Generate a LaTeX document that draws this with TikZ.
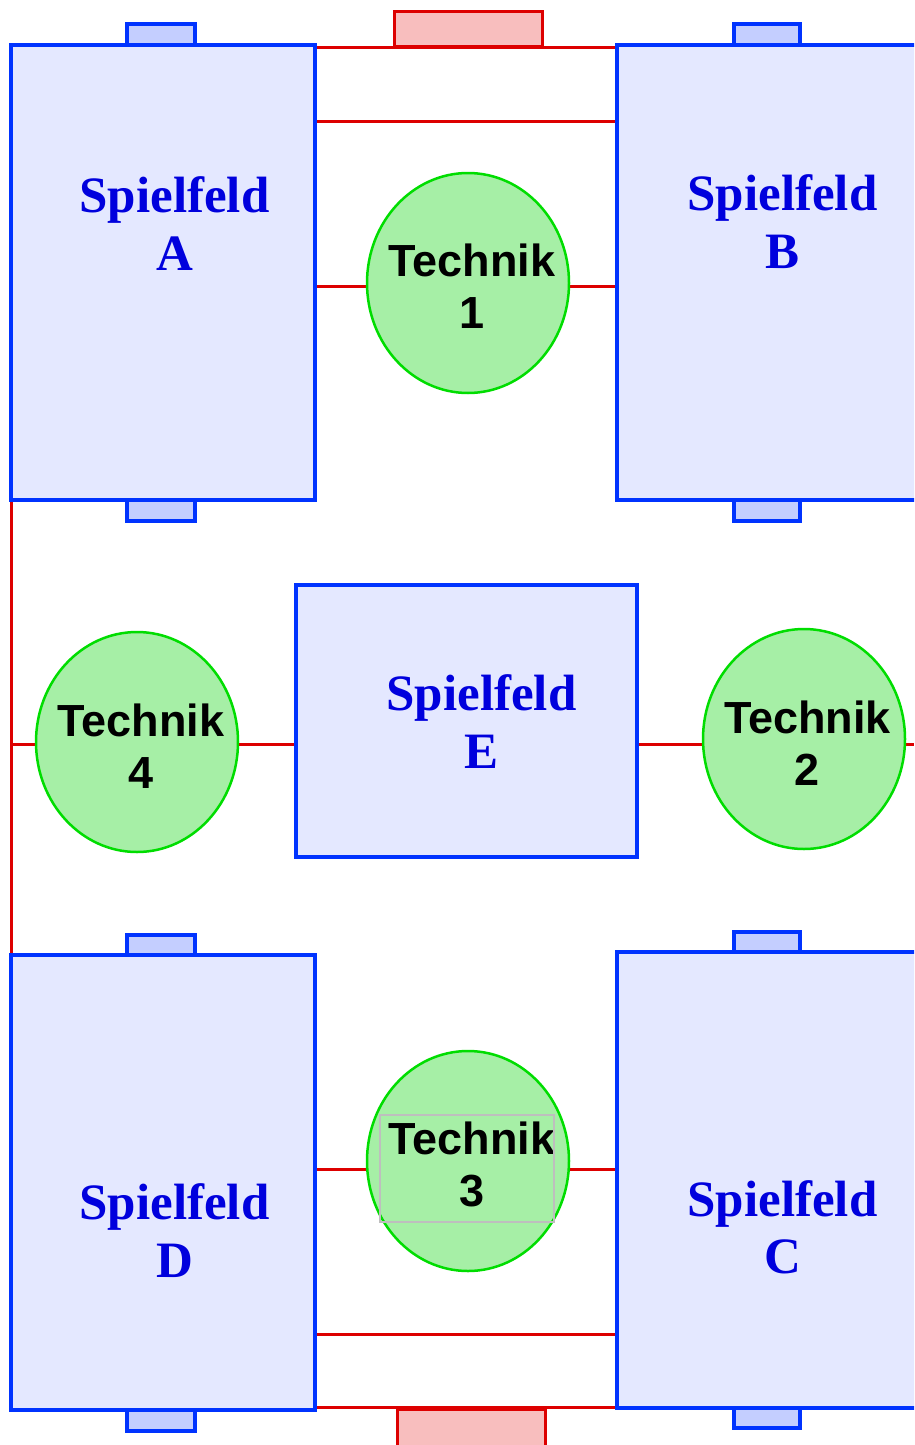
\documentclass[tikz,border=0pt]{standalone}
\usepackage{fontspec}
\setmainfont{Liberation Serif}
\newfontfamily\techfont{Liberation Sans}
\usetikzlibrary{shapes.geometric,backgrounds}
\definecolor{fieldblue}{RGB}{0,51,255}
\definecolor{fieldfill}{RGB}{228,232,255}
\definecolor{tabfill}{RGB}{196,206,255}
\definecolor{textblue}{RGB}{0,0,221}
\definecolor{linered}{RGB}{221,0,0}
\definecolor{boxfill}{RGB}{248,190,190}
\definecolor{techgreen}{RGB}{0,221,0}
\definecolor{techfill}{RGB}{166,239,166}
\tikzset{
  field/.style={draw=fieldblue,fill=fieldfill,line width=4.5pt,inner sep=0pt,outer sep=0pt},
  fieldtab/.style={draw=fieldblue,fill=tabfill,line width=4.5pt,inner sep=0pt,outer sep=0pt},
  redbox/.style={draw=linered,fill=boxfill,line width=3pt,inner sep=0pt,outer sep=0pt},
  tech/.style={ellipse,draw=techgreen,fill=techfill,line width=2.5pt,inner sep=0pt,outer sep=0pt,minimum width=202pt,minimum height=220pt},
  wire/.style={draw=linered,line width=3pt},
  fieldtext/.style={anchor=base,inner sep=0pt,text=textblue,font=\fontsize{51}{58}\selectfont\bfseries},
  techtext/.style={anchor=base,inner sep=0pt,text=black,font=\techfont\fontsize{45}{52}\selectfont\bfseries},
  graybox/.style={draw={rgb,255:red,190;green,190;blue,190},line width=2pt,inner sep=0pt,minimum width=174pt,minimum height=107pt}
}
\begin{document}
\begin{tikzpicture}[x=1pt,y=-1pt]
\useasboundingbox (0,0) rectangle (914,1445);
\clip (0,0) rectangle (914,1445);
% tabs
\node[fieldtab,minimum width=68pt,minimum height=21pt] (tabAt) at (161,34.5) {};
\node[fieldtab,minimum width=68pt,minimum height=21pt] (tabAb) at (161,510.5) {};
\node[fieldtab,minimum width=66pt,minimum height=21pt] (tabBt) at (767,34.5) {};
\node[fieldtab,minimum width=66pt,minimum height=21pt] (tabBb) at (767,510.5) {};
\node[fieldtab,minimum width=68pt,minimum height=20pt] (tabDt) at (161,945) {};
\node[fieldtab,minimum width=68pt,minimum height=21pt] (tabDb) at (161,1420.5) {};
\node[fieldtab,minimum width=66pt,minimum height=20pt] (tabCt) at (767,942) {};
\node[fieldtab,minimum width=66pt,minimum height=20pt] (tabCb) at (767,1418) {};
% fields
\node[field,minimum width=304pt,minimum height=455pt] (A) at (163,272.5) {};
\node[field,minimum width=318pt,minimum height=455pt] (B) at (776,272.5) {};
\node[field,minimum width=341pt,minimum height=272pt] (E) at (466.5,721) {};
\node[field,minimum width=304pt,minimum height=455pt] (D) at (163,1182.5) {};
\node[field,minimum width=318pt,minimum height=456pt] (C) at (776,1180) {};
% technik
\node[tech] (T1) at (468,283) {};
\node[tech] (T4) at (137,742) {};
\node[tech] (T2) at (804,739) {};
\node[tech] (T3) at (468,1161) {};
\coordinate (R) at (914,744);
\coordinate (J) at (A.south west |- 0,744);
% connectors
\begin{scope}[on background layer]
\draw[wire] (A.east |- 0,48) -- (B.west |- 0,48);
\draw[wire] (A.east |- 0,121) -- (B.west |- 0,121);
\draw[wire] (A.east |- 0,286) -- (T1.west |- 0,286);
\draw[wire] (T1.east |- 0,286) -- (B.west |- 0,286);
\draw[wire] (A.south west) -- (D.north west);
\draw[wire] (J) -- (T4.west |- 0,744);
\draw[wire] (T4.east |- 0,744) -- (E.west |- 0,744);
\draw[wire] (E.east |- 0,744) -- (T2.west |- 0,744);
\draw[wire] (T2.east |- 0,744) -- (R);
\draw[wire] (D.east |- 0,1169) -- (T3.west |- 0,1169);
\draw[wire] (T3.east |- 0,1169) -- (C.west |- 0,1169);
\draw[wire] (D.east |- 0,1334) -- (C.west |- 0,1334);
\draw[wire] (D.east |- 0,1407) -- (C.west |- 0,1407);
\end{scope}
% red boxes
\node[redbox,minimum width=148pt,minimum height=35pt] (rt) at (468,29.5) {};
\node[redbox,minimum width=148pt,minimum height=37pt] (rb) at (471,1427.5) {};
% labels
\node[fieldtext] (tA1) at (174.5,212) {Spielfeld};
\node[fieldtext] (tA2) at (174.5,270) {A};
\node[fieldtext] (tB1) at (782.5,210) {Spielfeld};
\node[fieldtext] (tB2) at (782.5,268) {B};
\node[fieldtext] (tE1) at (481.5,710) {Spielfeld};
\node[fieldtext] (tE2) at (481.5,768) {E};
\node[fieldtext] (tD1) at (174.5,1219) {Spielfeld};
\node[fieldtext] (tD2) at (174.5,1277) {D};
\node[fieldtext] (tC1) at (782.5,1216) {Spielfeld};
\node[fieldtext] (tC2) at (782.5,1273) {C};
\node[techtext] (t11) at (472,276) {Technik};
\node[techtext] (t12) at (472,328) {1};
\node[techtext] (t41) at (141,736) {Technik};
\node[techtext] (t42) at (141,788) {4};
\node[techtext] (t21) at (807.5,733) {Technik};
\node[techtext] (t22) at (807.5,785) {2};
\node[techtext] (t31) at (472,1154) {Technik};
\node[techtext] (t32) at (472,1206) {3};
\node[graybox] (g3) at (467,1168.5) {};
\end{tikzpicture}
\end{document}
